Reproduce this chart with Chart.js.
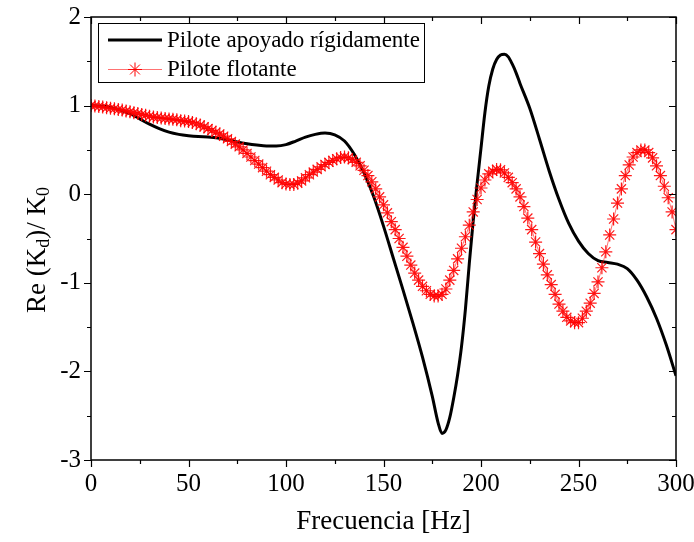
<!DOCTYPE html>
<html>
<head>
<meta charset="utf-8">
<script src="https://cdn.jsdelivr.net/npm/chart.js@4.4.0/dist/chart.umd.min.js"></script>
<style>
  html, body { margin: 0; padding: 0; background: #fff; }
</style>
</head>
<body>
<canvas id="myChart" width="694" height="542"></canvas>
<script>
/* ~~~~~~~~~~ DATA ~~~~~~~~~~*/

const xTicks = [0, 50, 100, 150, 200, 250, 300];
const yTicks = [-3, -2, -1, 0, 1, 2];

const seriesNames = ['Pilote apoyado rígidamente', 'Pilote flotante'];

// Pilote apoyado rigidamente (solid black line)
const rigidFreq = [
  0, 5, 10, 15, 20, 25, 30, 35, 40, 45, 50, 55, 60, 65, 70, 75, 80, 85, 90, 95,
  100, 105, 110, 115, 120, 125, 130, 135, 140, 145, 150, 155, 160, 165, 170, 175,
  178, 180, 182, 184, 186, 188, 190, 192, 194, 196, 198, 200, 202, 204, 206, 208,
  210, 212, 214, 216, 218, 220,
  225, 230, 235, 240, 245, 250, 255, 260, 265, 270, 275, 280, 285, 290, 295, 300
];
const rigidValues = [
  1.00, 0.995, 0.98, 0.95, 0.91, 0.85, 0.79, 0.74, 0.70, 0.675, 0.66, 0.65, 0.645, 0.635, 0.615, 0.59, 0.57, 0.555, 0.545, 0.545,
  0.56, 0.60, 0.645, 0.675, 0.69, 0.67, 0.60, 0.45, 0.24, -0.03, -0.36, -0.72, -1.08, -1.45, -1.84, -2.28,
  -2.58, -2.70, -2.66, -2.52, -2.30, -2.04, -1.72, -1.30, -0.78, -0.30, 0.12, 0.52, 0.92, 1.22, 1.41, 1.52,
  1.57, 1.58, 1.55, 1.47, 1.37, 1.25,
  0.97, 0.62, 0.26, -0.06, -0.33, -0.53, -0.67, -0.75, -0.77, -0.79, -0.84, -0.97, -1.16, -1.40, -1.70, -2.05
];

// Pilote flotante (red line with * markers, every 2 Hz)
const floatFreq = [
  0, 2, 4, 6, 8, 10, 12, 14, 16, 18,
  20, 22, 24, 26, 28, 30, 32, 34, 36, 38,
  40, 42, 44, 46, 48, 50, 52, 54, 56, 58,
  60, 62, 64, 66, 68, 70, 72, 74, 76, 78,
  80, 82, 84, 86, 88, 90, 92, 94, 96, 98,
  100, 102, 104, 106, 108, 110, 112, 114, 116, 118,
  120, 122, 124, 126, 128, 130, 132, 134, 136, 138,
  140, 142, 144, 146, 148, 150, 152, 154, 156, 158,
  160, 162, 164, 166, 168, 170, 172, 174, 176, 178,
  180, 182, 184, 186, 188, 190, 192, 194, 196, 198,
  200, 202, 204, 206, 208, 210, 212, 214, 216, 218,
  220, 222, 224, 226, 228, 230, 232, 234, 236, 238,
  240, 242, 244, 246, 248, 250, 252, 254, 256, 258,
  260, 262, 264, 266, 268, 270, 272, 274, 276, 278,
  280, 282, 284, 286, 288, 290, 292, 294, 296, 298,
  300
];
const floatValues = [
  1.00, 0.995, 0.99, 0.985, 0.975, 0.97, 0.965, 0.955, 0.95, 0.94,
  0.93, 0.92, 0.91, 0.90, 0.89, 0.88, 0.87, 0.865, 0.86, 0.855,
  0.85, 0.845, 0.84, 0.83, 0.825, 0.82, 0.81, 0.795, 0.78, 0.76,
  0.74, 0.72, 0.70, 0.68, 0.655, 0.625, 0.595, 0.565, 0.535, 0.50,
  0.46, 0.42, 0.38, 0.34, 0.30, 0.26, 0.22, 0.19, 0.16, 0.13,
  0.115, 0.11, 0.11, 0.125, 0.15, 0.185, 0.22, 0.25, 0.28, 0.31,
  0.335, 0.36, 0.38, 0.40, 0.415, 0.42, 0.41, 0.39, 0.36, 0.32,
  0.27, 0.21, 0.14, 0.06, -0.03, -0.12, -0.21, -0.31, -0.40, -0.50,
  -0.60, -0.70, -0.80, -0.89, -0.97, -1.04, -1.09, -1.13, -1.15, -1.15,
  -1.13, -1.07, -0.97, -0.86, -0.73, -0.61, -0.48, -0.35, -0.20, -0.06,
  0.07, 0.16, 0.23, 0.26, 0.28, 0.275, 0.24, 0.19, 0.13, 0.06,
  -0.03, -0.14, -0.27, -0.40, -0.54, -0.67, -0.79, -0.91, -1.02, -1.13,
  -1.24, -1.32, -1.39, -1.43, -1.45, -1.45, -1.40, -1.32, -1.23, -1.12,
  -0.99, -0.83, -0.65, -0.46, -0.28, -0.10, 0.06, 0.21, 0.33, 0.42,
  0.47, 0.50, 0.50, 0.47, 0.41, 0.32, 0.21, 0.09, -0.04, -0.20,
  -0.40
];

/* ~~~~~~~~~~ STYLE ~~~~~~~~~~*/

const serif = "'Liberation Serif', 'Times New Roman', serif";
const redLine = 'rgba(255, 0, 0, 0.55)';

/* ~~~~~~~~~~ PLUGINS ~~~~~~~~~~*/

// frame with major/minor ticks on all four sides (Origin style)
const framePlugin = {
  id: 'frame',
  afterDraw(chart) {
    const { ctx, chartArea: a, scales } = chart;
    const x = scales.x, y = scales.y;
    ctx.save();
    ctx.strokeStyle = '#000';
    ctx.lineWidth = 1.5;
    ctx.strokeRect(a.left, a.top, a.right - a.left, a.bottom - a.top);
    ctx.lineWidth = 1.2;
    ctx.beginPath();
    for (let v = -3; v <= 2.001; v += 0.5) {
      const py = Math.round(y.getPixelForValue(v)) + 0.5;
      const len = Number.isInteger(v) ? 7 : 4;
      ctx.moveTo(a.left - len, py); ctx.lineTo(a.left, py);
      ctx.moveTo(a.right, py); ctx.lineTo(a.right - len, py);
    }
    for (let v = 0; v <= 300; v += 25) {
      const px = Math.round(x.getPixelForValue(v)) + 0.5;
      const len = v % 50 === 0 ? 7 : 4;
      ctx.moveTo(px, a.bottom); ctx.lineTo(px, a.bottom + len);
      ctx.moveTo(px, a.top); ctx.lineTo(px, a.top + len);
    }
    ctx.stroke();
    ctx.restore();
  }
};

// y title with subscripts: Re (K_d)/ K_0
const yTitlePlugin = {
  id: 'yTitle',
  afterDraw(chart) {
    const { ctx } = chart;
    const big = '27px ' + serif;
    const small = '18px ' + serif;
    const parts = [
      ['Re (K', big, 0], ['d', small, 6], [')/ K', big, 0], ['0', small, 6]
    ];
    ctx.save();
    let total = 0;
    parts.forEach(p => { ctx.font = p[1]; total += ctx.measureText(p[0]).width; });
    ctx.translate(38, 250);
    ctx.rotate(-Math.PI / 2);
    ctx.fillStyle = '#000';
    ctx.textBaseline = 'middle';
    let cx = -total / 2;
    parts.forEach(p => {
      ctx.font = p[1];
      ctx.fillText(p[0], cx, p[2]);
      cx += ctx.measureText(p[0]).width;
    });
    ctx.restore();
  }
};

// boxed legend in the upper-left corner of the plot
const legendPlugin = {
  id: 'boxLegend',
  afterDraw(chart) {
    const { ctx } = chart;
    ctx.save();
    ctx.strokeStyle = '#000';
    ctx.lineWidth = 1;
    ctx.strokeRect(98.5, 23.5, 326, 59);
    ctx.font = '23px ' + serif;
    ctx.fillStyle = '#000';
    ctx.textBaseline = 'middle';

    ctx.lineWidth = 3;
    ctx.beginPath(); ctx.moveTo(108, 40); ctx.lineTo(162, 40); ctx.stroke();
    ctx.fillText(seriesNames[0], 167, 41);

    ctx.strokeStyle = redLine;
    ctx.lineWidth = 1;
    ctx.beginPath(); ctx.moveTo(108, 69.5); ctx.lineTo(162, 69.5); ctx.stroke();
    ctx.strokeStyle = 'red';
    Chart.helpers.drawPoint(ctx, { pointStyle: 'star', radius: 7, borderWidth: 1.2 }, 135, 69.5);
    ctx.fillText(seriesNames[1], 167, 70);
    ctx.restore();
  }
};

/* ~~~~~~~~~~ CHART ~~~~~~~~~~*/

const ctx = document.getElementById('myChart').getContext('2d');

const myChart = new Chart(ctx, {
  type: 'line',
  data: {
    datasets: [
      {
        label: seriesNames[0],
        data: rigidFreq.map((f, i) => ({ x: f, y: rigidValues[i] })),
        borderColor: '#000',
        borderWidth: 3,
        pointRadius: 0,
        cubicInterpolationMode: 'monotone',
        fill: false,
        order: 2,
      },
      {
        label: seriesNames[1],
        data: floatFreq.map((f, i) => ({ x: f, y: floatValues[i] })),
        borderColor: redLine,
        borderWidth: 1,
        pointStyle: 'star',
        pointRadius: 6.5,
        pointBorderColor: 'rgba(255, 0, 0, 0.9)',
        pointBackgroundColor: 'red',
        pointBorderWidth: 1.2,
        tension: 0,
        fill: false,
        order: 1,
      },
    ],
  },
  options: {
    responsive: false,
    animation: false,
    layout: { padding: { top: 17, right: 18, left: 0, bottom: 0 } },
    plugins: {
      legend: { display: false },
      tooltip: { enabled: false },
    },
    scales: {
      x: {
        type: 'linear',
        min: 0,
        max: 300,
        afterBuildTicks: (scale) => { scale.ticks = xTicks.map(v => ({ value: v })); },
        ticks: { color: '#000', font: { family: serif, size: 25 }, padding: 9, maxRotation: 0 },
        grid: { display: false, drawTicks: false },
        border: { display: false },
        title: { display: true, text: 'Frecuencia [Hz]', color: '#000', font: { family: serif, size: 27 }, padding: { top: 0, bottom: 4 } },
        afterFit: (scale) => {
          scale.height = 82;
          scale.paddingLeft = 0;
          scale.paddingRight = 0;
        },
      },
      y: {
        min: -3,
        max: 2,
        afterBuildTicks: (scale) => { scale.ticks = yTicks.map(v => ({ value: v })); },
        ticks: { color: '#000', font: { family: serif, size: 25 }, padding: 10 },
        grid: { display: false, drawTicks: false },
        border: { display: false },
        afterFit: (scale) => {
          scale.width = 91;
          scale.paddingTop = 0;
          scale.paddingBottom = 0;
        },
      },
    },
  },
  plugins: [framePlugin, yTitlePlugin, legendPlugin],
});
</script>
</body>
</html>
